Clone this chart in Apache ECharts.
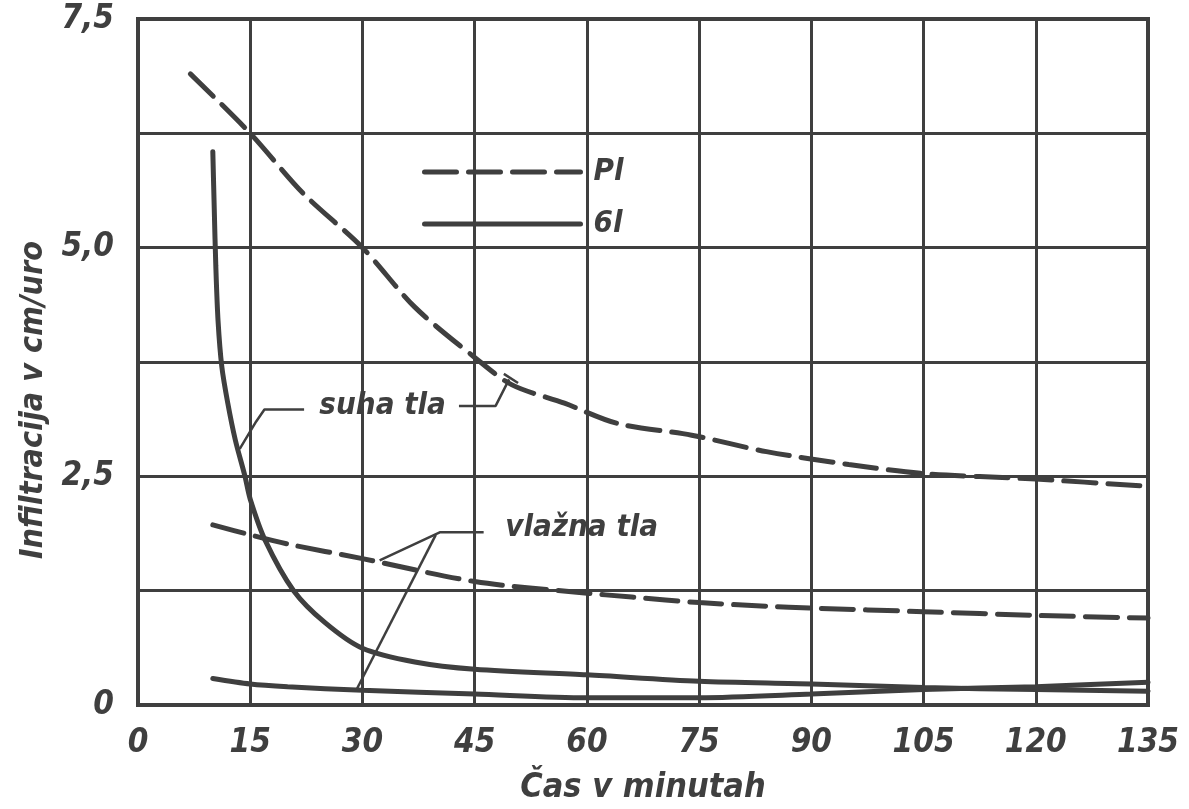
<!DOCTYPE html>
<html>
<head>
<meta charset="utf-8">
<script src="https://cdn.jsdelivr.net/npm/echarts@6/dist/echarts.min.js"></script>
<style>
  html, body { margin: 0; padding: 0; background: #ffffff; }
  #chart { width: 1189px; height: 809px; }
</style>
</head>
<body>
<div id="chart"></div>
<script>
// ---- Data ----
const xTickLabels = ['0','15','30','45','60','75','90','105','120','135'];
const yLabelValues = [0, 2.5, 5, 7.5];
const yLabelTexts = ['0', '2,5', '5,0', '7,5'];

// Pl – suha tla (dashed)
const plSuhaX = [7, 15, 22, 30, 37, 45, 50, 57, 64, 74, 84, 95, 105, 120, 135];
const plSuhaY = [6.9, 6.25, 5.6, 5.0, 4.35, 3.8, 3.5, 3.3, 3.08, 2.95, 2.77, 2.63, 2.53, 2.47, 2.39];

// 6l – suha tla (solid)
const s6lSuhaX = [10, 10.2, 10.4, 10.7, 11.2, 12, 13, 14.3, 15, 17, 20.8, 25, 30, 37, 45, 60, 75, 90, 105, 120, 135];
const s6lSuhaY = [6.05, 5.4, 4.8, 4.2, 3.7, 3.3, 2.9, 2.5, 2.25, 1.8, 1.25, 0.9, 0.62, 0.47, 0.39, 0.33, 0.26, 0.23, 0.19, 0.17, 0.15];

// Pl – vlažna tla (dashed)
const plVlaznaX = [10, 15, 20, 30, 45, 59, 66, 75, 84, 90, 105, 120, 135];
const plVlaznaY = [1.97, 1.86, 1.76, 1.6, 1.35, 1.23, 1.18, 1.12, 1.08, 1.06, 1.02, 0.98, 0.95];

// 6l – vlažna tla (solid)
const s6lVlaznaX = [10, 15, 20, 30, 45, 60, 75, 90, 105, 120, 135];
const s6lVlaznaY = [0.29, 0.23, 0.2, 0.16, 0.12, 0.08, 0.08, 0.12, 0.17, 0.2, 0.25];

// Annotations (label text and leader lines, in data units)
const annotTexts = ['suha tla', 'vlažna tla'];
const annotX = [32.7, 59.3];
const annotY = [3.27, 1.94];
const leaders = [
  [[22.2, 3.23], [16.9, 3.23], [15.8, 3.1], [13.6, 2.8]],
  [[42.9, 3.27], [47.8, 3.27], [49.6, 3.56]],
  [[48.9, 3.62], [50.8, 3.52]],
  [[46.2, 1.89], [40.4, 1.89], [32.3, 1.58]],
  [[39.8, 1.86], [29.1, 0.15]]
];

const legendNames = ['Pl', '6l'];

// ---- Styles ----
const INK = '#3f3f3f';
const FONT = 'DejaVu Sans Condensed';
const DASH = [32, 12];

function zip(xs, ys) { return xs.map((x, i) => [x, ys[i]]); }

const curveSeries = [
  { name: legendNames[0], x: plSuhaX, y: plSuhaY, dashed: true },
  { name: legendNames[1], x: s6lSuhaX, y: s6lSuhaY, dashed: false },
  { name: legendNames[0], x: plVlaznaX, y: plVlaznaY, dashed: true },
  { name: legendNames[1], x: s6lVlaznaX, y: s6lVlaznaY, dashed: false }
].map(s => ({
  type: 'line',
  name: s.name,
  data: zip(s.x, s.y),
  smooth: 0.3,
  symbol: 'none',
  silent: true,
  z: 5,
  itemStyle: { color: INK },
  lineStyle: { color: INK, width: 5, type: s.dashed ? DASH : 'solid', cap: 'round' }
}));

const leaderSeries = leaders.map((pts, i) => ({
  type: 'line',
  name: 'leader' + i,
  data: pts,
  symbol: 'none',
  silent: true,
  z: 4,
  lineStyle: { color: INK, width: 2.5 }
}));

const annotSeries = {
  type: 'scatter',
  name: 'annot',
  symbolSize: 0,
  silent: true,
  z: 6,
  itemStyle: { opacity: 1, color: INK },
  data: annotTexts.map((t, i) => [annotX[i], annotY[i], t]),
  label: {
    show: true,
    position: 'inside',
    formatter: p => p.data[2],
    color: INK,
    opacity: 1,
    fontFamily: FONT,
    fontStyle: 'italic',
    fontWeight: 'bold',
    fontSize: 31
  }
};

const chart = echarts.init(document.getElementById('chart'), null, { renderer: 'canvas' });
chart.setOption({
  backgroundColor: '#ffffff',
  animation: false,
  grid: {
    left: 138, right: 41, top: 19, bottom: 104,
    outerBoundsMode: 'none',
    containLabel: false,
    show: true, borderColor: INK, borderWidth: 4, backgroundColor: 'transparent'
  },
  legend: {
    left: 417, top: 149,
    orient: 'vertical',
    itemWidth: 156, itemHeight: 20, itemGap: 16,
    selectedMode: false,
    data: [
      { name: legendNames[0], itemStyle: { opacity: 0 }, lineStyle: { color: INK, width: 5, type: DASH } },
      { name: legendNames[1], itemStyle: { opacity: 0 }, lineStyle: { color: INK, width: 5, type: 'solid' } }
    ],
    textStyle: {
      color: INK, fontFamily: FONT, fontStyle: 'italic', fontWeight: 'bold',
      fontSize: 31, lineHeight: 36, padding: [0, 0, 0, 8]
    }
  },
  xAxis: {
    type: 'value', min: 0, max: 135, interval: 15,
    name: 'Čas v minutah', nameLocation: 'middle', nameGap: 66,
    nameTextStyle: { color: INK, fontFamily: FONT, fontStyle: 'italic', fontWeight: 'bold', fontSize: 34 },
    axisLine: { show: true, lineStyle: { color: INK, width: 4 } },
    axisTick: { show: false },
    axisLabel: {
      color: INK, fontFamily: FONT, fontStyle: 'italic', fontWeight: 'bold', fontSize: 33, margin: 22,
      formatter: v => xTickLabels[Math.round(v / 15)] ?? ''
    },
    splitLine: { show: true, lineStyle: { color: INK, width: 3 } }
  },
  yAxis: {
    type: 'value', min: 0, max: 7.5, interval: 1.25,
    name: 'Infiltracija v cm/uro', nameLocation: 'middle', nameGap: 88,
    nameTextStyle: { color: INK, fontFamily: FONT, fontStyle: 'italic', fontWeight: 'bold', fontSize: 32,
      padding: [0, 76, 0, 0] },
    axisLine: { show: true, lineStyle: { color: INK, width: 4 } },
    axisTick: { show: false },
    axisLabel: {
      color: INK, fontFamily: FONT, fontStyle: 'italic', fontWeight: 'bold', fontSize: 33, margin: 24,
      formatter: v => { const i = yLabelValues.indexOf(v); return i >= 0 ? yLabelTexts[i] : ''; }
    },
    splitLine: { show: true, lineStyle: { color: INK, width: 3 } }
  },
  series: [...curveSeries, ...leaderSeries, annotSeries]
});
</script>
</body>
</html>
